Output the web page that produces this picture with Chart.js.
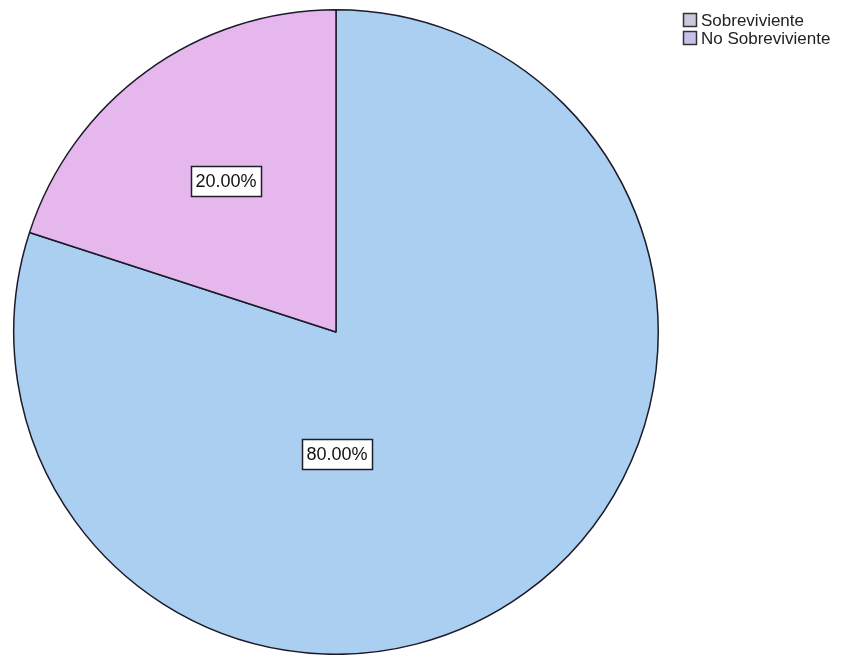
<!DOCTYPE html>
<html>
<head>
<meta charset="utf-8">
<script src="https://cdn.jsdelivr.net/npm/chart.js@4"></script>
<style>
  html, body { margin: 0; padding: 0; background: #fff; }
  #wrap { width: 843px; height: 655px; }
</style>
</head>
<body>
<div id="wrap"><canvas id="chart" width="843" height="655"></canvas></div>
<script>
let chartLabels = ['Sobreviviente', 'No Sobreviviente'];
let chartData = [80, 20];
let sliceColors = ['#aacff0', '#e5b7ed'];
let legendColors = ['#c9c9da', '#c5c2ea'];

// percent boxes drawn over each slice
const pctLabels = {
    id: 'pctLabels',
    afterDatasetsDraw(chart) {
        const ctx = chart.ctx;
        const meta = chart.getDatasetMeta(0);
        const total = chartData.reduce((a, b) => a + b, 0);
        ctx.save();
        ctx.font = '18px "Liberation Sans", Arial, sans-serif';
        ctx.textAlign = 'center';
        ctx.textBaseline = 'middle';
        meta.data.forEach((arc, i) => {
            const p = arc.getProps(['x', 'y', 'startAngle', 'endAngle', 'outerRadius']);
            const pct = chartData[i] / total;
            let x, y;
            if (pct > 0.5) {
                // big slice: label sits straight below the centre
                x = p.x + 1;
                y = p.y + p.outerRadius * 0.38;
            } else {
                const mid = (p.startAngle + p.endAngle) / 2;
                x = p.x + Math.cos(mid) * p.outerRadius * 0.58;
                y = p.y + Math.sin(mid) * p.outerRadius * 0.58;
            }
            const txt = (pct * 100).toFixed(2) + '%';
            const w = Math.round(ctx.measureText(txt).width + 9);
            const h = 30;
            const bx = Math.round(x - w / 2), by = Math.round(y - h / 2);
            ctx.fillStyle = '#fff';
            ctx.fillRect(bx, by, w, h);
            ctx.strokeStyle = '#1e1e2a';
            ctx.lineWidth = 1.5;
            ctx.strokeRect(bx + 0.5, by + 0.5, w, h);
            ctx.fillStyle = '#111';
            ctx.fillText(txt, bx + w / 2, by + h / 2 + 1);
        });
        ctx.restore();
    }
};

// small legend in the top right corner
const sideLegend = {
    id: 'sideLegend',
    afterDraw(chart) {
        const ctx = chart.ctx;
        ctx.save();
        ctx.font = '17px "Liberation Sans", Arial, sans-serif';
        ctx.textBaseline = 'middle';
        chartLabels.forEach((lbl, i) => {
            const y = 13 + i * 18;
            ctx.fillStyle = legendColors[i];
            ctx.fillRect(683, y, 14, 14);
            ctx.strokeStyle = '#333';
            ctx.lineWidth = 1.5;
            ctx.strokeRect(683.5, y + 0.5, 13, 13);
            ctx.fillStyle = '#222';
            ctx.fillText(lbl, 701, y + 8);
        });
        ctx.restore();
    }
};

function initChart() {
    const ctx = document.getElementById('chart').getContext('2d');
    new Chart(ctx, {
        type: 'pie',
        data: {
            labels: chartLabels,
            datasets: [{
                data: chartData,
                backgroundColor: sliceColors,
                borderColor: '#1b1b2a',
                borderWidth: 1.5,
            }]
        },
        options: {
            responsive: false,
            animation: false,
            layout: {
                padding: { left: 12, right: 183, top: 9, bottom: 0 }
            },
            plugins: {
                legend: { display: false },
                tooltip: { enabled: false }
            }
        },
        plugins: [pctLabels, sideLegend]
    });
}

initChart();
</script>
</body>
</html>
